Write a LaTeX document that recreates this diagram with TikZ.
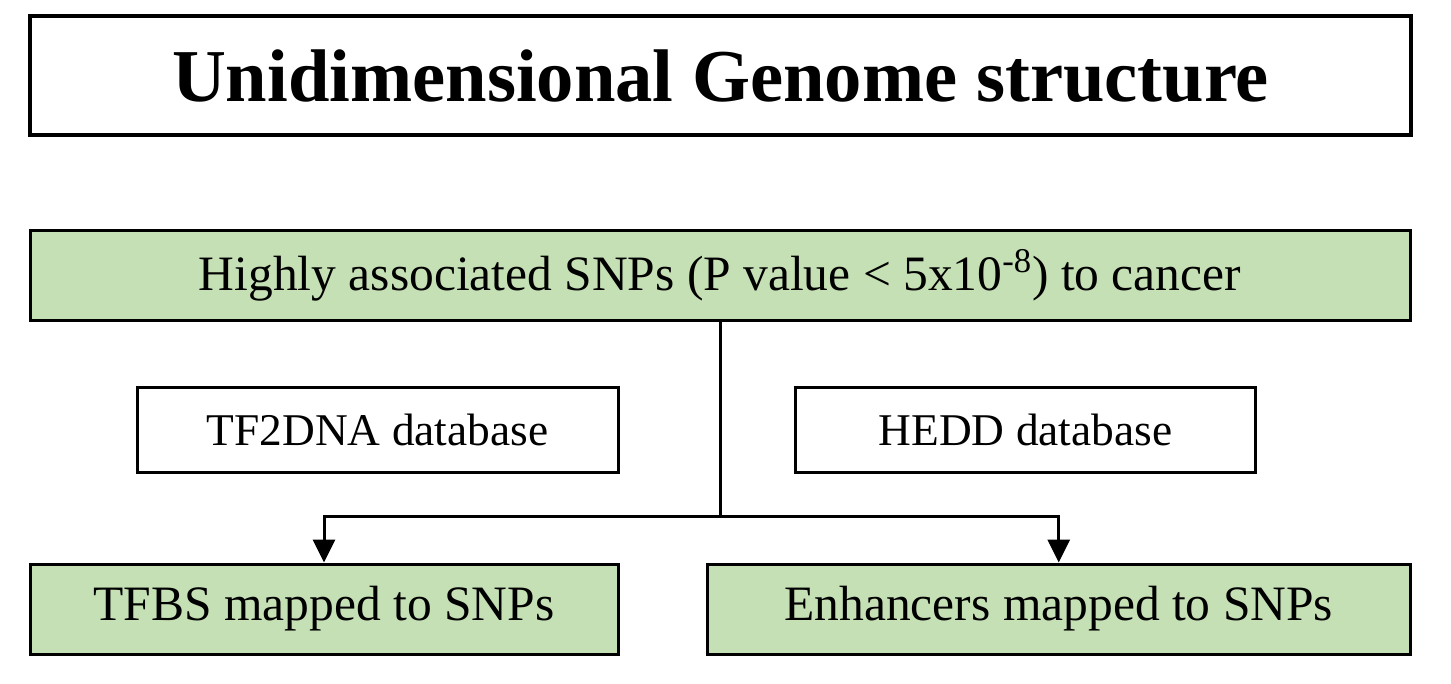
\documentclass[tikz,border=0pt]{standalone}
\usepackage{fontspec}
\setmainfont{Liberation Serif}
\usetikzlibrary{arrows.meta}
\definecolor{boxgreen}{RGB}{197,224,180}
\begin{document}
\begin{tikzpicture}[x=0.5pt,y=-0.5pt,
 box/.style={draw=black, line width=1.5pt, inner sep=0pt, align=center},
 greenbox/.style={box, fill=boxgreen},
 whitebox/.style={box, fill=white},
 conn/.style={line width=1.5pt},
 arr/.style={conn, -{Triangle[width=11pt,length=11.5pt]}},
 bigtxt/.style={font=\fontsize{24.75pt}{29pt}\selectfont},
 dbtxt/.style={font=\fontsize{22.7pt}{27pt}\selectfont},
]
\useasboundingbox[fill=white] (0,0) rectangle (1451,684);
\node[whitebox, line width=2pt, minimum width=690.5pt, minimum height=59.5pt,
      font=\fontsize{37.3pt}{44pt}\selectfont\bfseries] (title) at (720.5,76) {Unidimensional Genome structure};
\node[greenbox, bigtxt, minimum width=690pt, minimum height=45pt] (snps) at (720,275.5)
  {Highly associated SNPs (P value < 5x10\textsuperscript{-8}) to cancer};
\node[whitebox, dbtxt, minimum width=240.5pt, minimum height=42.5pt] (tf2dna) at (377.5,430) {TF2DNA database};
\node[whitebox, dbtxt, minimum width=230pt, minimum height=42.5pt] (hedd) at (1025.5,430) {HEDD database};
\node[greenbox, bigtxt, minimum width=294pt, minimum height=45pt] (tfbs) at (324,609) {TFBS mapped to SNPs};
\node[greenbox, bigtxt, minimum width=351.25pt, minimum height=45pt] (enh) at (1058.75,609) {Enhancers mapped to SNPs};
\coordinate (j) at (720,516.5);
\draw[conn] (snps.south) -- (j);
\draw[arr] (j) -| (tfbs.north);
\draw[arr] (j) -| (enh.north);
\end{tikzpicture}
\end{document}
